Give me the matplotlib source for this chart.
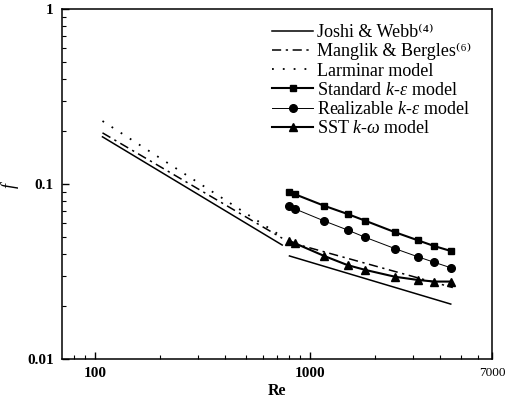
import matplotlib
matplotlib.use("Agg")
import matplotlib.pyplot as plt
from matplotlib.ticker import FixedLocator, NullFormatter, FixedFormatter

plt.rcParams['font.family'] = ['Liberation Serif', 'DejaVu Serif']
plt.rcParams['mathtext.fontset'] = 'custom'
plt.rcParams['mathtext.rm'] = 'Liberation Serif'
plt.rcParams['mathtext.it'] = 'Liberation Serif:italic'

# correlations (laminar and turbulent branches)
re_lam = [108, 740]
joshi_lam = [0.186, 0.0448]
manglik_lam = [0.196, 0.049]
laminar_model = [0.229, 0.050]

re_turb = [800, 4500]
joshi_turb = [0.0388, 0.0206]
re_manglik_turb = [800, 4600]
manglik_turb = [0.0465, 0.0256]

# CFD results
re_cfd = [800, 850, 1160, 1490, 1800, 2480, 3160, 3770, 4510]
f_standard = [0.0897, 0.0873, 0.0751, 0.0674, 0.0617, 0.0530, 0.0477, 0.0442, 0.0414]
f_realizable = [0.0748, 0.0720, 0.0615, 0.0546, 0.0496, 0.0427, 0.0384, 0.0357, 0.0332]
f_sst = [0.0472, 0.0458, 0.0388, 0.0344, 0.0323, 0.0295, 0.0283, 0.0277, 0.0277]

fig = plt.figure(figsize=(5.07, 4.01), dpi=100)
ax = fig.add_axes([62 / 507, 42 / 401, 430 / 507, 350 / 401])

dashdot = (0, (6, 3, 1.5, 3))
dotted = (0, (1, 5))

ax.plot(re_lam, joshi_lam, color='black', lw=1.1, label='Joshi & Webb\u207d\u2074\u207e')
ax.plot(re_turb, joshi_turb, color='black', lw=1.1)
ax.plot(re_lam, manglik_lam, color='black', lw=1.1, linestyle=dashdot,
        label='Manglik & Bergles\u207d\u2076\u207e')
ax.plot(re_manglik_turb, manglik_turb, color='black', lw=1.1, linestyle=dashdot)
ax.plot(re_lam, laminar_model, color='black', lw=1.3, linestyle=dotted,
        label='Larminar model')
ax.plot(re_cfd, f_standard, color='black', lw=1.5, marker='s', ms=5,
        label=r'Standard $k$-$\varepsilon$ model')
ax.plot(re_cfd, f_realizable, color='black', lw=0.7, marker='o', ms=5.5,
        label=r'Realizable $k$-$\varepsilon$ model')
ax.plot(re_cfd, f_sst, color='black', lw=1.5, marker='^', ms=6,
        label=r'SST $k$-$\omega$ model')

ax.set_xscale('log')
ax.set_yscale('log')
ax.set_xlim(70, 7000)
ax.set_ylim(0.01, 1)

ax.xaxis.set_major_locator(FixedLocator([100, 1000, 7000]))
ax.xaxis.set_major_formatter(FixedFormatter(['100', '1000', '7000']))
ax.xaxis.set_minor_locator(FixedLocator([80, 90, 200, 300, 400, 500, 600, 700, 800, 900,
                                         2000, 3000, 4000, 5000, 6000]))
ax.xaxis.set_minor_formatter(NullFormatter())
ax.yaxis.set_major_locator(FixedLocator([0.01, 0.1, 1]))
ax.yaxis.set_major_formatter(FixedFormatter(['0.01', '0.1', '1']))
ax.yaxis.set_minor_formatter(NullFormatter())

ax.tick_params(which='both', direction='in', top=False, right=False)
ax.tick_params(which='major', length=5, width=1.0, labelsize=11, pad=6)
ax.tick_params(which='minor', length=3, width=0.8)
for lab in ax.get_xticklabels() + ax.get_yticklabels():
    lab.set_fontweight('bold')
last = ax.get_xticklabels()[-1]
last.set_fontweight('normal')
last.set_fontsize(9.5)
for s in ax.spines.values():
    s.set_linewidth(1.1)

ax.set_xlabel('Re', fontweight='bold', fontsize=11.5, labelpad=2)
ax.set_ylabel('$f$', fontsize=13, labelpad=4)

ax.legend(loc='upper left', bbox_to_anchor=(0.488, 0.957), frameon=False,
          fontsize=13, handlelength=2.3, handletextpad=0.2, labelspacing=0.12,
          borderpad=0, borderaxespad=0)

fig.savefig('out.png', dpi=100)
